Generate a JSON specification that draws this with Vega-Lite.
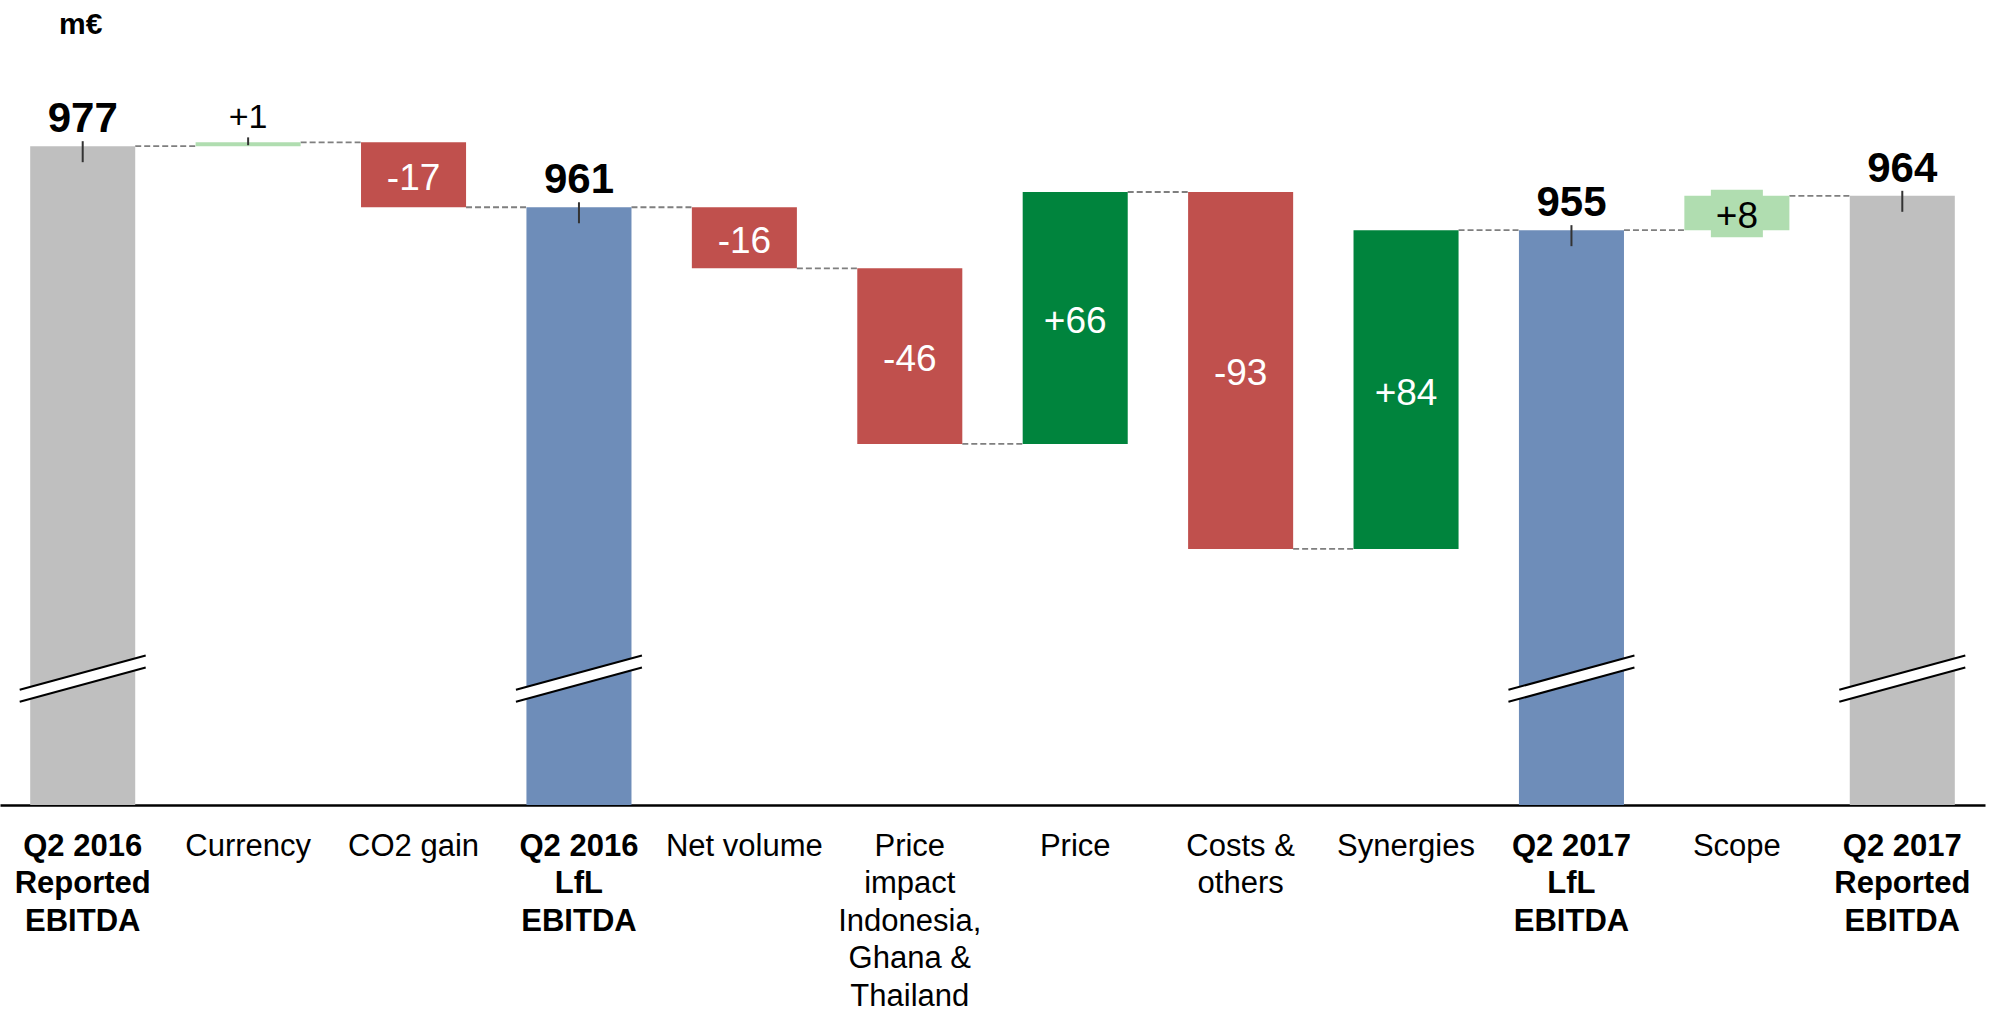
{
  "$schema": "https://vega.github.io/schema/vega-lite/v6.json",
  "autosize": {"type": "none"},
  "width": 1985,
  "height": 755,
  "padding": {"left": 0, "top": 50, "right": 10, "bottom": 208},
  "background": "white",
  "config": {"view": {"stroke": null}, "font": "Liberation Sans"},
  "title": {"text": "m€", "anchor": "start", "frame": "group", "dx": 59, "fontSize": 30, "font": "Liberation Sans", "fontWeight": "bold", "color": "black", "offset": -14, "baseline": "alphabetic"},
  "datasets": {
    "bars": [
      {"cat": "Q2 2016\nReported\nEBITDA", "kind": "Reported", "start": 0, "end": 977, "label": "977"},
      {"cat": "Currency", "kind": "Scope/FX", "start": 977, "end": 978, "label": "+1"},
      {"cat": "CO2 gain", "kind": "Decrease", "start": 978, "end": 961, "label": "-17"},
      {"cat": "Q2 2016\nLfL\nEBITDA", "kind": "LfL", "start": 0, "end": 961, "label": "961"},
      {"cat": "Net volume", "kind": "Decrease", "start": 961, "end": 945, "label": "-16"},
      {"cat": "Price\nimpact\nIndonesia,\nGhana &\nThailand", "kind": "Decrease", "start": 945, "end": 899, "label": "-46"},
      {"cat": "Price", "kind": "Increase", "start": 899, "end": 965, "label": "+66"},
      {"cat": "Costs &\nothers", "kind": "Decrease", "start": 965, "end": 871.5, "label": "-93"},
      {"cat": "Synergies", "kind": "Increase", "start": 871.5, "end": 955, "label": "+84"},
      {"cat": "Q2 2017\nLfL\nEBITDA", "kind": "LfL", "start": 0, "end": 955, "label": "955"},
      {"cat": "Scope", "kind": "Scope/FX", "start": 955, "end": 964, "label": "+8"},
      {"cat": "Q2 2017\nReported\nEBITDA", "kind": "Reported", "start": 0, "end": 964, "label": "964"}
    ],
    "links": [
      {"cat": "Q2 2016\nReported\nEBITDA", "to": "Currency", "level": 977},
      {"cat": "Currency", "to": "CO2 gain", "level": 978},
      {"cat": "CO2 gain", "to": "Q2 2016\nLfL\nEBITDA", "level": 961},
      {"cat": "Q2 2016\nLfL\nEBITDA", "to": "Net volume", "level": 961},
      {"cat": "Net volume", "to": "Price\nimpact\nIndonesia,\nGhana &\nThailand", "level": 945},
      {"cat": "Price\nimpact\nIndonesia,\nGhana &\nThailand", "to": "Price", "level": 899},
      {"cat": "Price", "to": "Costs &\nothers", "level": 965},
      {"cat": "Costs &\nothers", "to": "Synergies", "level": 871.5},
      {"cat": "Synergies", "to": "Q2 2017\nLfL\nEBITDA", "level": 955},
      {"cat": "Q2 2017\nLfL\nEBITDA", "to": "Scope", "level": 955},
      {"cat": "Scope", "to": "Q2 2017\nReported\nEBITDA", "level": 964}
    ],
    "breaks": [
      {"cat": "Q2 2016\nReported\nEBITDA", "left": 833, "right": 842},
      {"cat": "Q2 2016\nLfL\nEBITDA", "left": 833, "right": 842},
      {"cat": "Q2 2017\nLfL\nEBITDA", "left": 833, "right": 842},
      {"cat": "Q2 2017\nReported\nEBITDA", "left": 833, "right": 842}
    ]
  },
  "encoding": {
    "x": {
      "field": "cat", "type": "nominal", "sort": null,
      "scale": {
        "domain": ["Q2 2016\nReported\nEBITDA", "Currency", "CO2 gain", "Q2 2016\nLfL\nEBITDA", "Net volume", "Price\nimpact\nIndonesia,\nGhana &\nThailand", "Price", "Costs &\nothers", "Synergies", "Q2 2017\nLfL\nEBITDA", "Scope", "Q2 2017\nReported\nEBITDA"],
        "paddingInner": 0.365, "paddingOuter": 0.1825
      },
      "axis": {
        "title": null, "labelAngle": 0, "domainColor": "black", "domainWidth": 2.5, "ticks": false, "grid": false,
        "labelFont": "Liberation Sans", "labelFontSize": 31, "labelColor": "black", "labelLineHeight": 37.5,
        "labelPadding": 26, "labelBaseline": "top", "labelLimit": 0, "labelOverlap": false,
        "labelExpr": "split(datum.value, '\\n')",
        "labelFontWeight": {"condition": {"test": "indexof(datum.value, 'EBITDA') >= 0", "value": "bold"}, "value": "normal"}
      }
    }
  },
  "layer": [
    {
      "data": {"name": "links"},
      "mark": {"type": "rule", "stroke": "#7f7f7f", "strokeWidth": 1.8, "strokeDash": [6, 3], "xOffset": 52.5, "x2Offset": -52.5},
      "encoding": {
        "x2": {"field": "to"},
        "y": {"field": "level", "type": "quantitative", "scale": {"domain": [804.4, 1002.2], "zero": false, "nice": false}, "axis": null}
      }
    },
    {
      "data": {"name": "bars"},
      "mark": {"type": "bar", "clip": true},
      "encoding": {
        "y": {"field": "end", "type": "quantitative", "scale": {"domain": [804.4, 1002.2], "zero": false, "nice": false}, "axis": null},
        "y2": {"field": "start"},
        "color": {"field": "kind", "type": "nominal", "legend": null,
          "scale": {"domain": ["Reported", "LfL", "Increase", "Decrease", "Scope/FX"], "range": ["#BFBFBF", "#6E8DB9", "#00843D", "#C0504D", "#B0DDB0"]}}
      }
    },
    {
      "data": {"name": "bars"},
      "transform": [{"filter": "datum.cat == 'Scope'"}],
      "mark": {"type": "bar", "width": 52, "color": "#B0DDB0", "yOffset": -6, "y2Offset": 7},
      "encoding": {
        "y": {"field": "end", "type": "quantitative", "scale": {"domain": [804.4, 1002.2], "zero": false, "nice": false}, "axis": null},
        "y2": {"field": "start"}
      }
    },
    {
      "data": {"name": "breaks"},
      "mark": {"type": "rule", "stroke": "white", "strokeWidth": 11, "xOffset": -63, "x2Offset": 63},
      "encoding": {
        "x2": {"field": "cat"},
        "y": {"field": "left", "type": "quantitative", "scale": {"domain": [804.4, 1002.2], "zero": false, "nice": false}, "axis": null},
        "y2": {"field": "right"}
      }
    },
    {
      "data": {"name": "breaks"},
      "mark": {"type": "rule", "stroke": "black", "strokeWidth": 2, "xOffset": -63, "x2Offset": 63, "yOffset": -6, "y2Offset": -6},
      "encoding": {
        "x2": {"field": "cat"},
        "y": {"field": "left", "type": "quantitative", "scale": {"domain": [804.4, 1002.2], "zero": false, "nice": false}, "axis": null},
        "y2": {"field": "right"}
      }
    },
    {
      "data": {"name": "breaks"},
      "mark": {"type": "rule", "stroke": "black", "strokeWidth": 2, "xOffset": -63, "x2Offset": 63, "yOffset": 6, "y2Offset": 6},
      "encoding": {
        "x2": {"field": "cat"},
        "y": {"field": "left", "type": "quantitative", "scale": {"domain": [804.4, 1002.2], "zero": false, "nice": false}, "axis": null},
        "y2": {"field": "right"}
      }
    },
    {
      "data": {"name": "bars"},
      "transform": [{"filter": "datum.kind == 'Reported' || datum.kind == 'LfL'"}],
      "mark": {"type": "rule", "stroke": "#333333", "strokeWidth": 2, "yOffset": -5, "y2Offset": 16},
      "encoding": {
        "y": {"field": "end", "type": "quantitative", "scale": {"domain": [804.4, 1002.2], "zero": false, "nice": false}, "axis": null},
        "y2": {"field": "end"}
      }
    },
    {
      "data": {"name": "bars"},
      "transform": [{"filter": "datum.cat == 'Currency'"}],
      "mark": {"type": "rule", "stroke": "#333333", "strokeWidth": 2, "yOffset": -5, "y2Offset": -1},
      "encoding": {
        "y": {"field": "end", "type": "quantitative", "scale": {"domain": [804.4, 1002.2], "zero": false, "nice": false}, "axis": null},
        "y2": {"field": "start"}
      }
    },
    {
      "data": {"name": "bars"},
      "transform": [{"filter": "datum.kind == 'Reported' || datum.kind == 'LfL'"}],
      "mark": {"type": "text", "font": "Liberation Sans", "fontSize": 42, "fontWeight": "bold", "color": "black", "baseline": "alphabetic", "dy": -14},
      "encoding": {
        "y": {"field": "end", "type": "quantitative", "scale": {"domain": [804.4, 1002.2], "zero": false, "nice": false}, "axis": null},
        "text": {"field": "label"}
      }
    },
    {
      "data": {"name": "bars"},
      "transform": [{"filter": "datum.cat == 'Currency'"}],
      "mark": {"type": "text", "font": "Liberation Sans", "fontSize": 34, "color": "black", "baseline": "alphabetic", "dy": -14},
      "encoding": {
        "y": {"field": "end", "type": "quantitative", "scale": {"domain": [804.4, 1002.2], "zero": false, "nice": false}, "axis": null},
        "text": {"field": "label"}
      }
    },
    {
      "data": {"name": "bars"},
      "transform": [
        {"filter": "datum.kind == 'Increase' || datum.kind == 'Decrease'"},
        {"fold": ["start", "end"], "as": ["edge", "v"]}
      ],
      "mark": {"type": "text", "font": "Liberation Sans", "fontSize": 37, "color": "white", "baseline": "middle", "dy": 4},
      "encoding": {
        "y": {"aggregate": "mean", "field": "v", "type": "quantitative", "scale": {"domain": [804.4, 1002.2], "zero": false, "nice": false}, "axis": null},
        "text": {"field": "label", "type": "nominal"}
      }
    },
    {
      "data": {"name": "bars"},
      "transform": [
        {"filter": "datum.cat == 'Scope'"},
        {"fold": ["start", "end"], "as": ["edge", "v"]}
      ],
      "mark": {"type": "text", "font": "Liberation Sans", "fontSize": 37, "color": "black", "baseline": "middle", "dy": 4},
      "encoding": {
        "y": {"aggregate": "mean", "field": "v", "type": "quantitative", "scale": {"domain": [804.4, 1002.2], "zero": false, "nice": false}, "axis": null},
        "text": {"field": "label", "type": "nominal"}
      }
    }
  ]
}
